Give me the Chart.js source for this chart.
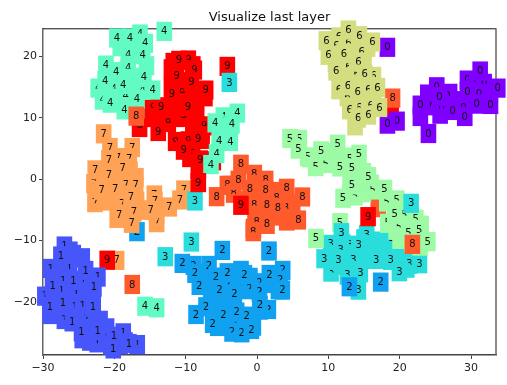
<!DOCTYPE html>
<html>
<head>
<meta charset="utf-8">
<style>html,body{margin:0;padding:0;background:#fff}canvas{display:block}</style>
<script src="https://cdn.jsdelivr.net/npm/chart.js@4/dist/chart.umd.min.js"></script>
</head>
<body>
<canvas id="c" width="507" height="385"></canvas>
<script>
const chartTitle = 'Visualize last layer';
const xTicks = [-30,-20,-10,0,10,20,30];
const yTicks = [-20,-10,0,10,20];
const xRange = [-30,33.5];
const yRange = [-28.65,24.6];
const digitColors = {0:'#8000ff',1:'#4756fb',2:'#10a2f0',3:'#2adddd',4:'#62fbc4',5:'#9cfba4',6:'#d4dd80',7:'#ffa256',8:'#ff5a2c',9:'#ff0000'};

// labels whose text is entirely buried under neighbours
const buried0 = [[23.94,13.88],[28,12.8],[32.7,13.9],[22.9,10.23],[25.67,10.6],[26.5,12],[25,12.5],[29.5,12.5],[31,14],[27,14]];
const buried1 = [[-25.76,-12.25],[-27.4,-14.43],[-26.23,-11.71],[-24.36,-19.33],[-22.96,-19.06],[-26.93,-22.05],[-29.03,-22.05],[-24.83,-22.05],[-22.96,-22.05],[-21.09,-24.23],[-23.43,-26.4],[-19.2,-26.95],[-28.8,-19.06],[-26.46,-18.78],[-28,-16],[-25,-17],[-28.5,-20.5],[-26,-20.5],[-24.5,-23.5],[-22,-23],[-20.5,-27],[-18.5,-26.5],[-24.5,-26],[-24.5,-12.8]];
const buried2 = [[-5.19,-19.32],[-3.32,-20.41],[-6.36,-20.41],[-3.78,-20.14],[-0.51,-23.95],[-2.24,-14.86],[-4.72,-23.13],[0.42,-21.34],[-5.28,-21.5],[-7,-17],[-6.5,-18.5],[-4,-18.5],[-1.5,-18],[-1,-16],[-3,-16.8],[-7,-16],[-5.5,-24],[-1.5,-24],[-3,-22],[1,-17],[3,-18]];
const buried3 = [[17.72,-12.25],[16.78,-10.08],[17.95,-11.44],[19.59,-11.7],[10.7,-11.7],[15.38,-13.07],[13.51,-14.7],[21.92,-12.77],[12,-10.5],[13,-12],[15,-12],[12.5,-14],[17,-12],[21,-14.5],[20,-13.5],[10.5,-14],[15,-9.7],[14,-14.7]];
const buried4 = [[-19.17,21.6],[-16.88,11.43],[-17.5,21.5],[-17,16],[-20,16],[-19,13],[-17.5,14.5],[-15.5,18.5],[-18,16.5],[-4.3,9],[-4.5,7.5]];
const buried5 = [[11.31,3.26],[10.7,4.35],[21.46,-7.63],[20.05,-9.8],[22.86,-10.9],[14.91,1.08],[13.04,0],[14.91,-2.19],[20.76,-9.8],[7.4,3.5],[9.8,3.4],[12.5,3.6],[13,-2.5],[16,-0.8],[20,-4.5],[21,-7],[23,-7.5],[21.8,-8.5],[19.5,-8.3]];
const buried6 = [[14.45,21.5],[11.64,19.32],[16.32,13.33],[14.45,12.78],[13.74,8.7],[13,16.5],[13,21],[15,19],[15,15.5],[13,13],[15,12],[11,19],[15.5,21.5],[12,23]];
const buried7 = [[-22.49,-2.18],[-20.62,-3.55],[-17.8,-4.63],[-19.6,-6.38],[-16.88,-3.55],[-17.8,1.36],[-16.97,0.27],[-21.79,0.27],[-14.07,-5.72],[-20,-2],[-16.5,-5],[-22,-0.5],[-18.5,0],[-20,1],[-19.5,-4.5],[-21,-3]];
const buried8 = [[4.16,-6.81],[-0.28,-5.45],[17,-4.63],[-1.5,-3.5],[0,-3],[3,-2],[5,-4],[3,-6],[-3.5,-1],[0.5,-0.5],[1,-6],[-0.5,-8]];
const buried9 = [[-11.74,19.04],[-7.3,13.44],[-8.46,12.79],[-11.27,12.24],[-14.54,11.15],[-11.74,11.15],[-14.8,10.06],[-8.46,9.8],[-9.4,3.53],[-8.23,1.63],[18.8,11.3],[-6.13,3],[-12,18],[-9,18.5],[-12,15],[-9,13],[-13,10],[-11.5,13],[-8.5,8.3],[-9,7.5],[-7.7,6.5],[-7.7,8]];

// labels with only the upper part of the text still showing
const partial0 = [[24.59,11.97],[25.2,15.07],[25.9,11.6],[26.69,13.6],[28.94,11.7],[29.5,16.16],[30.8,15.78],[31.84,15.62],[31.09,13.87]];
const partial1 = [[-27,-10.89],[-28.94,-14.54],[-26.28,-14.59],[-27.16,-16.5],[-24.36,-16.61],[-22.3,-15.95],[-27.4,-18.24],[-25.34,-18.62],[-29.74,-19.06],[-25.53,-20.85],[-24.45,-20.69],[-23.89,-22.7],[-27,-22.87],[-18.75,-25.04],[-22.4,-26.67],[-16.79,-26.95],[-21.09,-25.97]];
const partial2 = [[-8.93,-14.05],[3.6,-14.86],[3.23,-16.44],[-4.16,-17.15],[-2.48,-17.26],[-1.07,-17.8],[0.33,-16.88],[0.33,-18.4],[1.59,-21.23],[-3.08,-23.4],[-3.5,-24.93]];
const partial3 = [[10.33,-10.62],[13.04,-10.78],[11.73,-11.44],[13.51,-13.23],[21.36,-13.88],[10.38,-15.14],[12.67,-15.63],[15.38,-9]];
const partial4 = [[-16.4,23.67],[-18.05,20.24],[-18.05,18.12],[-20.06,14.8],[-22.26,14.85],[-16.04,14.5],[-18.42,13.5],[-21.65,12.9],[-4.72,10.17]];
const partial5 = [[5.94,6.5],[7.1,3.64],[13.04,3.26],[8.23,2.06],[9.63,2.55],[16.22,-1.75],[13.74,-2.73],[18.19,-3.71],[19.59,-3.38],[20.62,-5.89],[22.25,-6.54],[18.33,-7.19],[19.91,-7.79],[21.22,-8.82]];
const partial6 = [[11.5,23.2],[11.08,21.77],[12.81,22.2],[14.68,20.68],[12.81,18.34],[16.32,16.76],[13.98,17.14],[11.5,14.58],[15.61,14.53],[12.67,13.44],[14.3,11.7],[15.94,11.97]];
const partial7 = [[-17.49,5.17],[-19.5,3.53],[-17.91,3.37],[-19.45,-0.27],[-22.86,-0.72],[-18.38,-0.93],[-22.72,-3.82],[-18.89,-3.98],[-14.4,-2.57],[-14.31,-3.55],[-10.24,-1.75],[-14.07,-7.08]];
const partial8 = [[-4.16,-0.99],[-3.28,-2.29],[-0.38,0.8],[1.21,-0.17],[2.76,-3.11],[4.06,-4.74],[-0.38,-4.2],[-0.05,-6.97],[-0.52,-8.55]];
const partial9 = [[-9.63,19.43],[-10.48,14.15],[-14.87,13.17],[-14.54,11.7],[-16.46,8.43],[-11.41,6.15],[-9.63,6.26],[-9.03,4.08],[-12.44,9.25],[-10.3,10.06],[-7.39,8.7]];

// labels with the whole digit readable
const points0 = [[18.28,21.5],[19.63,9.47],[18.28,8.98],[24.03,7.45],[22.9,12.08],[25.57,13.49],[27.44,11.21],[29.12,10.23],[29.5,14.31],[31.28,17.63],[30.8,12.24],[32.73,12.19],[33.75,14.85]];
const points1 = [[-27.49,-12.52],[-24.03,-14.87],[-25.72,-16.5],[-28.66,-17.42],[-22.86,-17.59],[-29.03,-20.85],[-27.21,-20.2],[-23,-20.85],[-25.9,-23.25],[-24.6,-24.88],[-22.35,-24.66],[-20.06,-25.59],[-17.96,-26.78],[-20.15,-27.66]];
const points2 = [[-16.83,-8.55],[-4.86,-11.6],[1.68,-11.7],[-10.47,-13.72],[-6.73,-14.05],[-8.69,-15.35],[-5.75,-15.95],[-4.16,-15.24],[-1.77,-15.52],[1.73,-15.52],[-8.09,-17.31],[-5.28,-17.96],[-3.18,-18.67],[3.55,-18.07],[-7.15,-20.79],[-8.55,-22.05],[0.42,-20.52],[-2.85,-21.66],[-4.72,-22.15],[-1.45,-22.32],[-6.22,-23.51],[-2.15,-25.04],[-0.79,-24.49]];
const points3 = [[18.84,-9.64],[14.26,-10.78],[9.4,-12.96],[11.4,-13.23],[16.69,-13.07],[18.75,-13.23],[22.77,-13.78],[19.96,-15.08],[14.49,-15.25],[14.21,-18.08],[-3.88,15.78],[-8.7,-3.55],[-9.2,-10.24],[-12.86,-12.63]];
const points4 = [[-19.64,23.02],[-17.8,23.02],[-15.66,22.15],[-13,24.1],[-16.04,20.3],[-21.18,18.6],[-19.73,17.52],[-15.85,16.6],[-21.3,16.1],[-18.75,15.45],[-14.64,14.53],[-16.83,13.06],[-20.57,12.4],[-18.6,11.3],[-5.85,9.19],[-2.76,10.77],[-3.51,8.98],[-5.3,6.26],[-3.74,6.15],[-5.66,4.19],[-6.45,2.39],[-15.7,-20.7],[-14.07,-20.96]];
const points5 = [[4.63,6.64],[5.8,4.9],[11.31,5.71],[8.98,4.62],[14.3,4.07],[11.64,2],[13.32,1.79],[15.61,0.43],[13.32,-0.93],[17.86,-1.64],[12.06,-3.1],[19.31,-5.72],[22.72,-8.33],[11.64,-7.08],[8.27,-9.64],[23.94,-10.18]];
const points6 = [[12.81,24.32],[14.35,23.4],[9.72,22.58],[16.18,22.36],[10,20.19],[12.2,20.5],[14.21,19.1],[11.08,17.63],[15.1,17.14],[12.76,15.23],[14.12,14.2],[16.88,14.96],[13,11.32],[17.16,11.7],[14.17,9.96],[15.61,10.45]];
const points7 = [[-21.5,7.4],[-20.62,5.17],[-20.76,3.2],[-22.68,1.52],[-18.84,1.79],[-20.76,0.65],[-21.79,-1.8],[-19.87,-1.64],[-17.02,-0.93],[-17.67,-2.84],[-19.31,-5.83],[-17.25,-5.34],[-17.58,-7.19],[-14.92,-5.07],[-12.3,-4.53],[-10.8,-3.38],[-19.68,-13.23]];
const points8 = [[-2.25,2.44],[-2.62,-0.17],[-5.66,-2.84],[-0.99,-1.64],[1.21,-1.8],[4.16,-1.48],[6.36,-2.89],[2.94,-4.63],[1.4,-4.25],[1.4,-7.36],[5.79,-6.65],[-16.93,10.28],[-17.49,-17.15],[19,13.22]];
const points9 = [[-10.94,19.37],[-8.79,17.79],[-11.27,16.81],[-9.21,15.89],[-7.2,14.53],[-11.92,13.93],[-13.42,11.81],[-9.68,11.81],[-13.84,7.78],[-8.23,6.58],[-10.29,4.73],[-7.95,3.15],[-4.16,18.39],[-21,-13.2]];

// drawn last, because these sit above neighbours of other digits
const topDigits = [3,3,2,2,8,9,9,9];
const topX = [21.6,11.83,12.95,17.34,21.78,-8.23,-2.25,15.57];
const topY = [-3.93,-8.71,-17.53,-16.77,-10.62,-0.55,-4.25,-6.1];

const buried = [buried0,buried1,buried2,buried3,buried4,buried5,buried6,buried7,buried8,buried9];
const partial = [partial0,partial1,partial2,partial3,partial4,partial5,partial6,partial7,partial8,partial9];
const full = [points0,points1,points2,points3,points4,points5,points6,points7,points8,points9];
const drawOrder = [2,7,9,4,8,3,5,0,1,6];

const datasets = drawOrder.map(d => {
  const rows = [...buried[d].map(p => [p,'b']), ...partial[d].map(p => [p,'p']), ...full[d].map(p => [p,'f'])];
  return {
    label: String(d),
    data: rows.map(r => ({x:r[0][0], y:r[0][1]})),
    digits: rows.map(() => d),
    kinds: rows.map(r => r[1]),
    pointRadius: 0
  };
});
datasets.push({
  label: 'top',
  data: topDigits.map((d,i) => ({x:topX[i], y:topY[i]})),
  digits: topDigits,
  kinds: topDigits.map(() => 'f'),
  pointRadius: 0
});

const boxW = 15.6, boxH = 19.2;
const digitBoxes = {
  id: 'digitBoxes',
  afterDatasetsDraw(chart) {
    const ctx = chart.ctx;
    ctx.save();
    ctx.font = '10px "DejaVu Sans"';
    ctx.textAlign = 'center';
    ctx.textBaseline = 'middle';
    chart.data.datasets.forEach((ds, i) => {
      chart.getDatasetMeta(i).data.forEach((el, j) => {
        const d = ds.digits[j], kind = ds.kinds[j];
        ctx.fillStyle = digitColors[d];
        ctx.fillRect(el.x - boxW/2, el.y - boxH/2, boxW, boxH);
        if (kind === 'b') return;
        ctx.fillStyle = '#111';
        if (kind === 'p') {
          ctx.save();
          ctx.beginPath();
          ctx.rect(el.x - boxW/2, el.y - boxH/2, boxW, boxH/2 + 0.5);
          ctx.clip();
          ctx.fillText(String(d), el.x, el.y + 0.5);
          ctx.restore();
        } else {
          ctx.fillText(String(d), el.x, el.y + 0.5);
        }
      });
    });
    ctx.restore();
  }
};
const frame = {
  id: 'frame',
  beforeDatasetsDraw(chart) {
    const a = chart.chartArea, ctx = chart.ctx;
    ctx.save();
    ctx.strokeStyle = '#111';
    ctx.lineWidth = 1;
    ctx.beginPath();
    ctx.moveTo(a.left, a.top + 0.5); ctx.lineTo(a.right, a.top + 0.5);
    ctx.stroke();
    ctx.strokeStyle = '#666';
    ctx.lineWidth = 1.5;
    ctx.beginPath();
    ctx.moveTo(a.right, a.top); ctx.lineTo(a.right, a.bottom);
    ctx.stroke();
    ctx.restore();
  }
};

const minusText = v => String(v).replace('-', '\u2212');
new Chart(document.getElementById('c'), {
  type: 'scatter',
  data: { datasets },
  plugins: [frame, digitBoxes],
  options: {
    responsive: false,
    animation: false,
    layout: { padding: { top: 0, right: 11, bottom: 0, left: 0 } },
    plugins: {
      legend: { display: false },
      tooltip: { enabled: false },
      title: {
        display: true, text: chartTitle, fullSize: false,
        color: '#111',
        font: { family: '"DejaVu Sans"', size: 13, weight: 'normal' },
        padding: { top: 9.7, bottom: 3 }
      }
    },
    scales: {
      x: {
        type: 'linear', min: xRange[0], max: xRange[1],
        afterBuildTicks: s => { s.ticks = xTicks.map(v => ({value:v})); },
        afterFit: s => { s.height = 30; },
        border: { display: true, color: '#444', width: 1.5 },
        grid: { drawOnChartArea: false, drawTicks: true, tickLength: 4, color: '#444' },
        ticks: { color: '#222', font: { family: '"DejaVu Sans"', size: 11 }, padding: 3, maxRotation: 0, callback: minusText }
      },
      y: {
        type: 'linear', min: yRange[0], max: yRange[1],
        afterBuildTicks: s => { s.ticks = yTicks.map(v => ({value:v})); },
        afterFit: s => { s.width = 43; },
        border: { display: true, color: '#666', width: 1.5 },
        grid: { drawOnChartArea: false, drawTicks: true, tickLength: 4, color: '#444' },
        ticks: { color: '#222', font: { family: '"DejaVu Sans"', size: 11 }, padding: 2, callback: minusText }
      }
    }
  }
});
</script>
</body>
</html>
